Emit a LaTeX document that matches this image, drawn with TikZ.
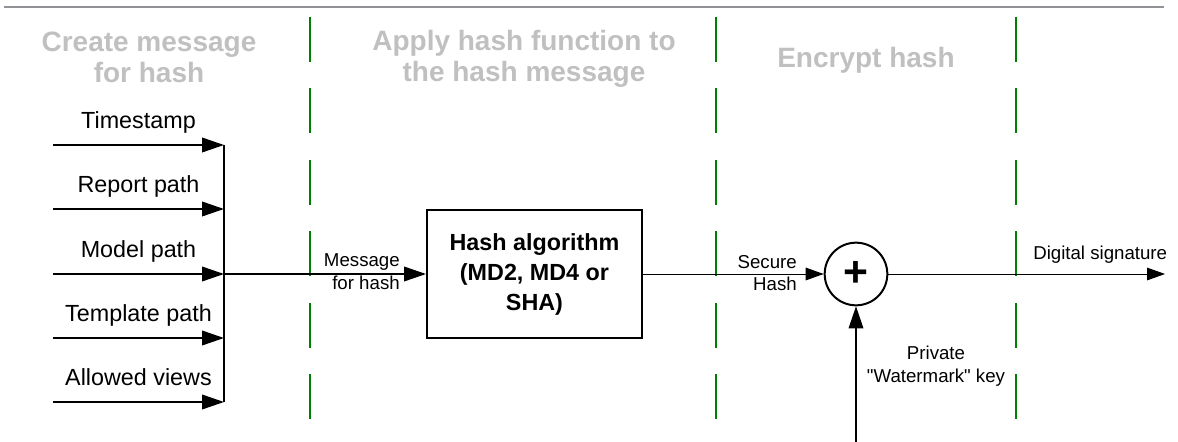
\documentclass[tikz,border=0pt]{standalone}
\usepackage{fontspec}
\setmainfont{Liberation Sans}
\usetikzlibrary{arrows.meta,positioning}
\definecolor{lanegreen}{RGB}{0,128,0}
\definecolor{headgray}{RGB}{192,192,192}
\definecolor{rulegray}{RGB}{145,145,150}

\begin{document}
\begin{tikzpicture}[x=0.75pt,y=-0.75pt,
  heading/.style={font=\fontsize{21}{23.25}\selectfont\bfseries, text=headgray, align=center, inner sep=0},
  lbl/.style={font=\fontsize{17.5}{21}\selectfont, inner sep=0},
  sml/.style={font=\fontsize{14}{17}\selectfont, inner sep=0},
  arr/.style={line width=1.2pt, -{Triangle[length=16.5pt,width=11pt]}},
  arrthin/.style={line width=0.7pt, -{Triangle[length=13.5pt,width=9.5pt]}},
  lane/.style={lanegreen, line width=1.8pt, dash pattern=on 33.75pt off 19.8pt},
  hashbox/.style={draw, line width=1.75pt, minimum width=161pt, minimum height=96pt, align=center, font=\fontsize{17.5}{22.5}\selectfont\bfseries, inner sep=0}]
\useasboundingbox (0,0) rectangle (1178,442);
% header rule and lanes
\draw[rulegray, line width=1.5pt] (4,7) -- (1164,7);
\draw[lane] (310,17) -- (310,419);
\draw[lane] (716,17) -- (716,419);
\draw[lane] (1016,17) -- (1016,419);
\node[heading] (h1) at (149,57.3) {Create message\\for hash};
\node[heading] (h2) at (524,59.3) {Apply hash function to\\the hash message};
\node[heading, anchor=base] (h3) at (866,68) {Encrypt hash};
% inputs
\coordinate (ts-w) at (53,145);
\coordinate (ts-e) at (224,145);
\coordinate (rp-w) at (53,209);
\coordinate (rp-e) at (224,209);
\coordinate (mp-w) at (53,274);
\coordinate (mp-e) at (224,274);
\coordinate (tp-w) at (53,338);
\coordinate (tp-e) at (224,338);
\coordinate (av-w) at (53,402);
\coordinate (av-e) at (224,402);
\draw[arr] (ts-w) -- node[lbl, anchor=base, yshift=12.4pt] (ts) {Timestamp} (ts-e);
\draw[arr] (rp-w) -- node[lbl, anchor=base, yshift=12.4pt] (rp) {Report path} (rp-e);
\draw[arr] (mp-w) -- node[lbl, anchor=base, yshift=12.4pt] (mp) {Model path} (mp-e);
\draw[arr] (tp-w) -- node[lbl, anchor=base, yshift=12.4pt] (tp) {Template path} (tp-e);
\draw[arr] (av-w) -- node[lbl, anchor=base, yshift=12.4pt] (av) {Allowed views} (av-e);
\draw[line width=0.9pt] (ts-e) -- (av-e);
% hash
\node[hashbox] (hash) at (534.5,274) {Hash algorithm\\(MD2, MD4 or\\SHA)};
\node[sml, align=right, anchor=east] (msg) at (400,272) {Message\\for hash};
\draw[arr] (mp-e) -- (hash.west);
% encrypt
\node[circle, draw, line width=1.5pt, minimum size=47pt, inner sep=0, font=\fontsize{32}{32}\selectfont\bfseries] (enc) at (856,274) {+};
\node[sml, align=right, anchor=east] (sec) at (797,273) {Secure\\Hash};
\draw[arrthin] (hash.east) -- (enc.west);
\coordinate (sig) at (1165,274);
\draw[arrthin] (enc.east) -- (sig);
\node[sml, anchor=base west] (sig-lbl) at (1033,259) {Digital signature};
\coordinate (key) at (856,442);
\draw[arr, line width=1pt] (key) -- (enc.south);
\node[sml, align=center] (key-lbl) at (936,366) {Private\\\textquotedbl Watermark\textquotedbl{} key};
\end{tikzpicture}
\end{document}
